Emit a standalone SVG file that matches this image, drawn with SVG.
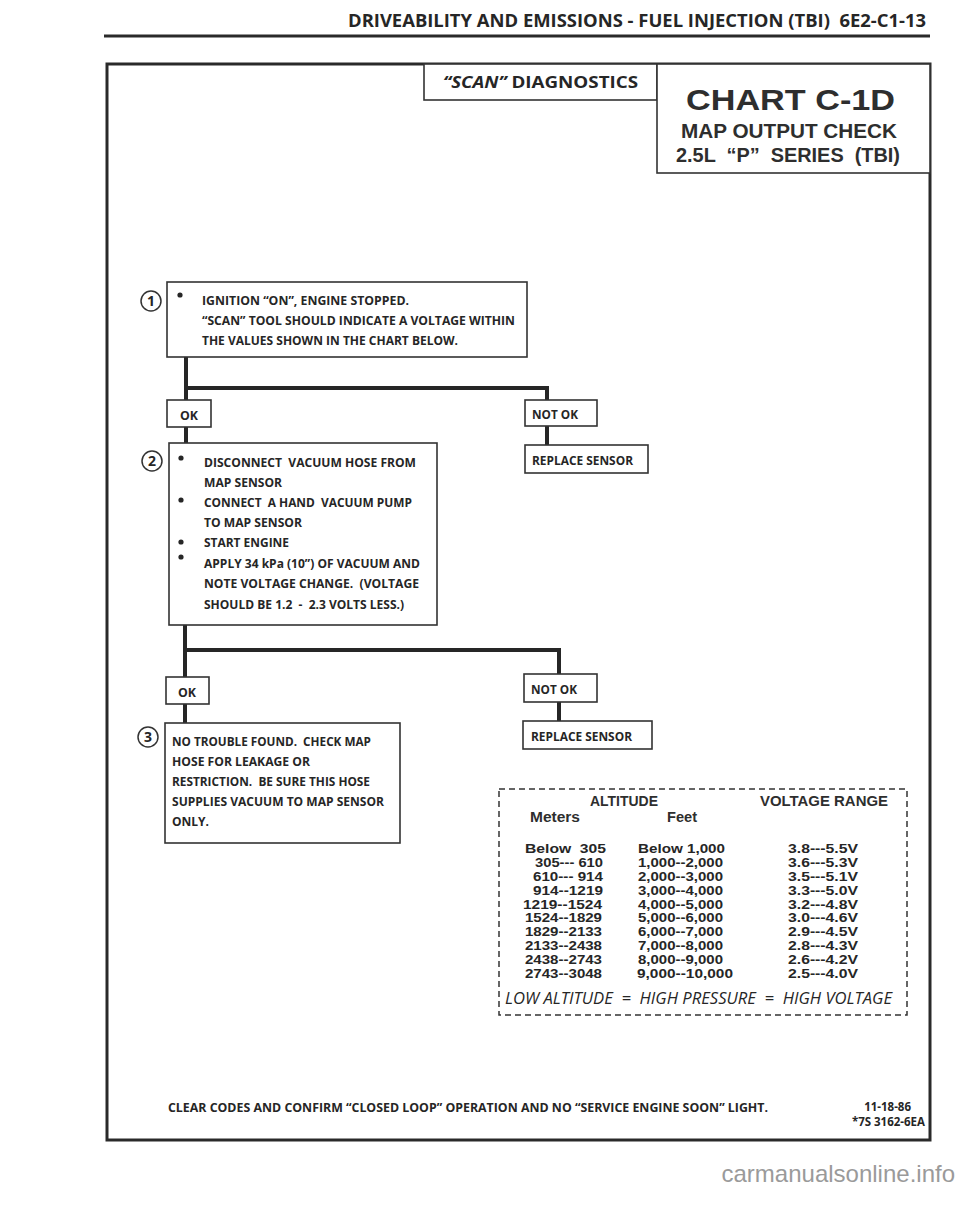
<svg xmlns="http://www.w3.org/2000/svg" width="960" height="1205" viewBox="0 0 960 1205">
<style>
.t{font-family:"Open Sans","Liberation Sans",sans-serif;font-weight:700;fill:#262626}
.h{font-family:"Liberation Sans",Arial,sans-serif;font-weight:700;fill:#2e2e2e}
.th{font-family:"Liberation Sans",Arial,sans-serif;font-weight:700;font-size:14px;fill:#2e2e2e}
.box{fill:#fff;stroke:#333;stroke-width:1.6}
.frame{fill:none;stroke:#2a2a2a;stroke-width:3}
.conn{fill:none;stroke:#262626;stroke-width:4;stroke-linejoin:miter}
.num{fill:#fff;stroke:#333;stroke-width:1.5}
.bul{fill:#262626}
.row{font-family:"Liberation Sans",Arial,sans-serif;font-weight:700;font-size:12.3px;fill:#262626;white-space:pre}
</style>
<rect width="960" height="1205" fill="#fff"/>
<g id="page-header">
<text class="t" x="348" y="27" font-size="18" textLength="578" lengthAdjust="spacingAndGlyphs" style="white-space:pre">DRIVEABILITY AND EMISSIONS - FUEL INJECTION (TBI)  6E2-C1-13</text>
<line x1="104" y1="36" x2="930" y2="36" stroke="#2a2a2a" stroke-width="3"/>
</g>
<rect id="frame" class="frame" x="107" y="64" width="823" height="1076"/>
<g id="scan-diagnostics">
<rect class="box" x="424" y="64" width="233" height="36"/>
<text class="t" x="443" y="88" font-size="16" textLength="195" lengthAdjust="spacingAndGlyphs" style="white-space:pre"><tspan font-style="italic">“SCAN”</tspan> DIAGNOSTICS</text>
</g>
<g id="chart-title">
<rect class="box" x="657" y="64" width="273" height="109"/>
<text class="h" x="686" y="110" font-size="30" textLength="209" lengthAdjust="spacingAndGlyphs">CHART C-1D</text>
<text class="h" x="681" y="138" font-size="20.5" textLength="216" lengthAdjust="spacingAndGlyphs">MAP OUTPUT CHECK</text>
<text class="h" x="676" y="162" font-size="20.5" textLength="224" lengthAdjust="spacingAndGlyphs" style="white-space:pre">2.5L  “P”  SERIES  (TBI)</text>
</g>
<g id="connectors">
<path class="conn" d="M186 357V400"/>
<path class="conn" d="M186 388H547V400"/>
<path class="conn" d="M186 427V443"/>
<path class="conn" d="M547 426V445"/>
<path class="conn" d="M185 625V677"/>
<path class="conn" d="M185 650H559V674"/>
<path class="conn" d="M185 704V723"/>
<path class="conn" d="M559 702V721"/>
</g>
<g id="step1">
<circle class="num" cx="151" cy="301" r="10"/>
<text class="t" x="151" y="306" font-size="14" text-anchor="middle">1</text>
<rect class="box" x="167" y="282" width="360" height="75"/>
<circle class="bul" cx="180" cy="295" r="2.6"/>
<text class="t" x="202" y="305" font-size="12.5" textLength="207" lengthAdjust="spacingAndGlyphs">IGNITION “ON”, ENGINE STOPPED.</text>
<text class="t" x="202" y="325" font-size="12.5" textLength="313" lengthAdjust="spacingAndGlyphs">“SCAN” TOOL SHOULD INDICATE A VOLTAGE WITHIN</text>
<text class="t" x="202" y="345" font-size="12.5" textLength="256" lengthAdjust="spacingAndGlyphs">THE VALUES SHOWN IN THE CHART BELOW.</text>
</g>
<g id="ok1">
<rect class="box" x="167" y="400" width="44" height="27"/>
<text class="t" x="180" y="420" font-size="12.5" textLength="18" lengthAdjust="spacingAndGlyphs">OK</text>
</g>
<g id="notok1">
<rect class="box" x="525" y="400" width="72" height="26"/>
<text class="t" x="532" y="419" font-size="12.5" textLength="46" lengthAdjust="spacingAndGlyphs">NOT OK</text>
</g>
<g id="replace1">
<rect class="box" x="525" y="445" width="123" height="28"/>
<text class="t" x="532" y="465" font-size="12.5" textLength="101" lengthAdjust="spacingAndGlyphs">REPLACE SENSOR</text>
</g>
<g id="step2">
<circle class="num" cx="152" cy="461" r="10"/>
<text class="t" x="152" y="466" font-size="14" text-anchor="middle">2</text>
<rect class="box" x="169" y="443" width="268" height="182"/>
<circle class="bul" cx="181" cy="458" r="2.6"/>
<circle class="bul" cx="181" cy="500" r="2.6"/>
<circle class="bul" cx="181" cy="542" r="2.6"/>
<circle class="bul" cx="181" cy="557" r="2.6"/>
<text class="t" x="204" y="467" font-size="12.5" textLength="212" lengthAdjust="spacingAndGlyphs" style="white-space:pre">DISCONNECT  VACUUM HOSE FROM</text>
<text class="t" x="204" y="487" font-size="12.5" textLength="78" lengthAdjust="spacingAndGlyphs">MAP SENSOR</text>
<text class="t" x="204" y="507" font-size="12.5" textLength="208" lengthAdjust="spacingAndGlyphs" style="white-space:pre">CONNECT  A HAND  VACUUM PUMP</text>
<text class="t" x="204" y="527" font-size="12.5" textLength="98" lengthAdjust="spacingAndGlyphs">TO MAP SENSOR</text>
<text class="t" x="204" y="547" font-size="12.5" textLength="85" lengthAdjust="spacingAndGlyphs">START ENGINE</text>
<text class="t" x="204" y="568" font-size="12.5" textLength="216" lengthAdjust="spacingAndGlyphs">APPLY 34 kPa (10”) OF VACUUM AND</text>
<text class="t" x="204" y="588" font-size="12.5" textLength="215" lengthAdjust="spacingAndGlyphs" style="white-space:pre">NOTE VOLTAGE CHANGE.  (VOLTAGE</text>
<text class="t" x="204" y="609" font-size="12.5" textLength="200" lengthAdjust="spacingAndGlyphs" style="white-space:pre">SHOULD BE 1.2  -  2.3 VOLTS LESS.)</text>
</g>
<g id="ok2">
<rect class="box" x="166" y="677" width="43" height="27"/>
<text class="t" x="178" y="697" font-size="12.5" textLength="18" lengthAdjust="spacingAndGlyphs">OK</text>
</g>
<g id="notok2">
<rect class="box" x="524" y="674" width="73" height="28"/>
<text class="t" x="531" y="694" font-size="12.5" textLength="46" lengthAdjust="spacingAndGlyphs">NOT OK</text>
</g>
<g id="replace2">
<rect class="box" x="523" y="721" width="129" height="28"/>
<text class="t" x="531" y="741" font-size="12.5" textLength="101" lengthAdjust="spacingAndGlyphs">REPLACE SENSOR</text>
</g>
<g id="step3">
<circle class="num" cx="148" cy="737" r="10"/>
<text class="t" x="148" y="742" font-size="14" text-anchor="middle">3</text>
<rect class="box" x="165" y="723" width="235" height="120"/>
<text class="t" x="172" y="746" font-size="12.5" textLength="199" lengthAdjust="spacingAndGlyphs" style="white-space:pre">NO TROUBLE FOUND.  CHECK MAP</text>
<text class="t" x="172" y="766" font-size="12.5" textLength="138" lengthAdjust="spacingAndGlyphs">HOSE FOR LEAKAGE OR</text>
<text class="t" x="172" y="786" font-size="12.5" textLength="198" lengthAdjust="spacingAndGlyphs" style="white-space:pre">RESTRICTION.  BE SURE THIS HOSE</text>
<text class="t" x="172" y="806" font-size="12.5" textLength="212" lengthAdjust="spacingAndGlyphs">SUPPLIES VACUUM TO MAP SENSOR</text>
<text class="t" x="172" y="826" font-size="12.5" textLength="37" lengthAdjust="spacingAndGlyphs">ONLY.</text>
</g>
<g id="altitude-table">
<rect x="499" y="789" width="408" height="226" fill="none" stroke="#333" stroke-width="1.5" stroke-dasharray="6 4"/>
<text class="th" x="590" y="806" textLength="68" lengthAdjust="spacingAndGlyphs">ALTITUDE</text>
<text class="th" x="760" y="806" textLength="128" lengthAdjust="spacingAndGlyphs">VOLTAGE RANGE</text>
<text class="th" x="530" y="822" textLength="50" lengthAdjust="spacingAndGlyphs">Meters</text>
<text class="th" x="667" y="822" textLength="30" lengthAdjust="spacingAndGlyphs">Feet</text>
<text class="row" x="525" y="853" textLength="81" lengthAdjust="spacingAndGlyphs">Below  305</text>
<text class="row" x="535" y="867" textLength="68" lengthAdjust="spacingAndGlyphs">305--- 610</text>
<text class="row" x="533" y="881" textLength="70" lengthAdjust="spacingAndGlyphs">610--- 914</text>
<text class="row" x="533" y="895" textLength="70" lengthAdjust="spacingAndGlyphs">914--1219</text>
<text class="row" x="523" y="909" textLength="79" lengthAdjust="spacingAndGlyphs">1219--1524</text>
<text class="row" x="525" y="922" textLength="77" lengthAdjust="spacingAndGlyphs">1524--1829</text>
<text class="row" x="525" y="936" textLength="77" lengthAdjust="spacingAndGlyphs">1829--2133</text>
<text class="row" x="525" y="950" textLength="77" lengthAdjust="spacingAndGlyphs">2133--2438</text>
<text class="row" x="525" y="964" textLength="77" lengthAdjust="spacingAndGlyphs">2438--2743</text>
<text class="row" x="525" y="978" textLength="77" lengthAdjust="spacingAndGlyphs">2743--3048</text>
<text class="row" x="638" y="853" textLength="87" lengthAdjust="spacingAndGlyphs">Below 1,000</text>
<text class="row" x="638" y="867" textLength="85" lengthAdjust="spacingAndGlyphs">1,000--2,000</text>
<text class="row" x="638" y="881" textLength="85" lengthAdjust="spacingAndGlyphs">2,000--3,000</text>
<text class="row" x="638" y="895" textLength="85" lengthAdjust="spacingAndGlyphs">3,000--4,000</text>
<text class="row" x="638" y="909" textLength="85" lengthAdjust="spacingAndGlyphs">4,000--5,000</text>
<text class="row" x="638" y="922" textLength="85" lengthAdjust="spacingAndGlyphs">5,000--6,000</text>
<text class="row" x="638" y="936" textLength="85" lengthAdjust="spacingAndGlyphs">6,000--7,000</text>
<text class="row" x="638" y="950" textLength="85" lengthAdjust="spacingAndGlyphs">7,000--8,000</text>
<text class="row" x="638" y="964" textLength="85" lengthAdjust="spacingAndGlyphs">8,000--9,000</text>
<text class="row" x="637" y="978" textLength="96" lengthAdjust="spacingAndGlyphs">9,000--10,000</text>
<text class="row" x="788" y="853" textLength="70" lengthAdjust="spacingAndGlyphs">3.8---5.5V</text>
<text class="row" x="788" y="867" textLength="70" lengthAdjust="spacingAndGlyphs">3.6---5.3V</text>
<text class="row" x="788" y="881" textLength="70" lengthAdjust="spacingAndGlyphs">3.5---5.1V</text>
<text class="row" x="788" y="895" textLength="70" lengthAdjust="spacingAndGlyphs">3.3---5.0V</text>
<text class="row" x="788" y="909" textLength="70" lengthAdjust="spacingAndGlyphs">3.2---4.8V</text>
<text class="row" x="788" y="922" textLength="70" lengthAdjust="spacingAndGlyphs">3.0---4.6V</text>
<text class="row" x="788" y="936" textLength="70" lengthAdjust="spacingAndGlyphs">2.9---4.5V</text>
<text class="row" x="788" y="950" textLength="70" lengthAdjust="spacingAndGlyphs">2.8---4.3V</text>
<text class="row" x="788" y="964" textLength="70" lengthAdjust="spacingAndGlyphs">2.6---4.2V</text>
<text class="row" x="788" y="978" textLength="70" lengthAdjust="spacingAndGlyphs">2.5---4.0V</text>
<text x="505" y="1004" font-family="Open Sans, Liberation Sans, sans-serif" font-style="italic" font-weight="500" font-size="17" fill="#262626" textLength="387" lengthAdjust="spacingAndGlyphs" style="white-space:pre">LOW ALTITUDE  =  HIGH PRESSURE  =  HIGH VOLTAGE</text>
</g>
<g id="footer">
<text class="t" x="168" y="1112" font-size="11.5" textLength="600" lengthAdjust="spacingAndGlyphs">CLEAR CODES AND CONFIRM “CLOSED LOOP” OPERATION AND NO “SERVICE ENGINE SOON” LIGHT.</text>
<text class="t" x="911" y="1111" font-size="11.5" text-anchor="end">11-18-86</text>
<text class="t" x="925" y="1126" font-size="11.5" text-anchor="end">*7S 3162-6EA</text>
</g>
<text id="watermark" x="955" y="1182" font-family="Liberation Sans, Arial, sans-serif" font-size="24" fill="#9a9a9a" text-anchor="end">carmanualsonline.info</text>
</svg>
